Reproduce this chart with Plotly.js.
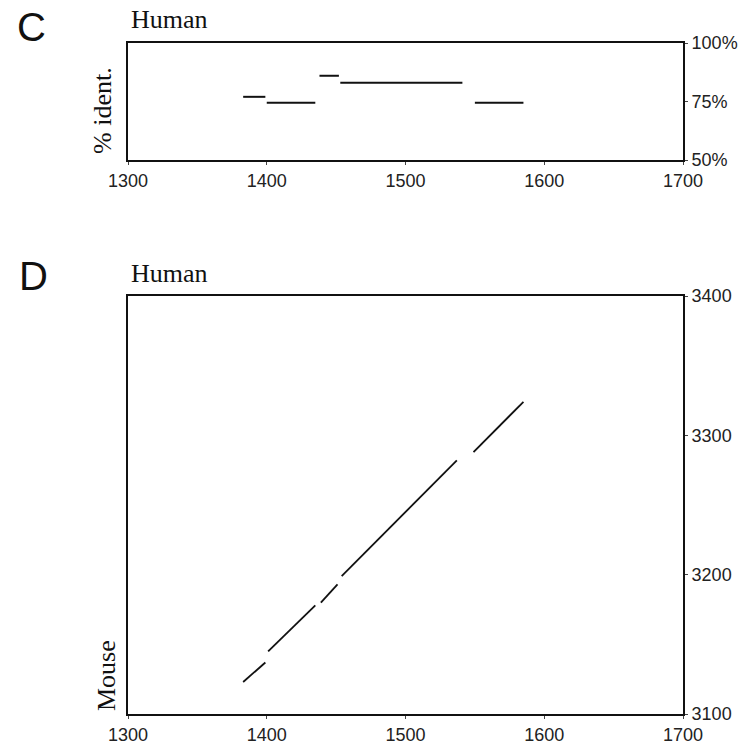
<!DOCTYPE html>
<html>
<head>
<meta charset="utf-8">
<script src="https://cdn.plot.ly/plotly-3.0.1.min.js"></script>
<style>html,body{margin:0;padding:0;background:#fff;}#chart{width:746px;height:748px;}</style>
</head>
<body>
<div id="chart"></div>
<script>
// Panel C: percent identity segments (human position start/end, % identity)
const identStart = [1383, 1400, 1438, 1453, 1550];
const identEnd   = [1399, 1435, 1452, 1541, 1585];
const identPct   = [77, 74.5, 86, 83, 74.5];

// Panel D: dot-plot alignment segments (human vs mouse positions)
const humanStart = [1383, 1401, 1439, 1454, 1549];
const humanEnd   = [1399, 1435, 1451, 1537, 1585];
const mouseStart = [3123, 3145, 3180, 3199, 3288];
const mouseEnd   = [3137, 3178, 3193, 3282, 3324];

const xTicks = [1300, 1400, 1500, 1600, 1700];
const identTicks = [50, 75, 100];
const identTickText = ['50%', '75%', '100%'];
const mouseTicks = [3100, 3200, 3300, 3400];

const cx = [], cy = [];
for (let i = 0; i < identStart.length; i++) {
  cx.push(identStart[i], identEnd[i], null);
  cy.push(identPct[i], identPct[i], null);
}
const dx = [], dy = [];
for (let i = 0; i < humanStart.length; i++) {
  dx.push(humanStart[i], humanEnd[i], null);
  dy.push(mouseStart[i], mouseEnd[i], null);
}

const traces = [
  {x: cx, y: cy, xaxis: 'x', yaxis: 'y', mode: 'lines', line: {color: '#111', width: 2}, connectgaps: false, hoverinfo: 'skip'},
  {x: dx, y: dy, xaxis: 'x2', yaxis: 'y2', mode: 'lines', line: {color: '#111', width: 1.8}, connectgaps: false, hoverinfo: 'skip'}
];

const tickFont = {family: 'Liberation Sans, Arial, sans-serif', size: 18, color: '#222'};
const axisCommon = {
  showline: true, mirror: true, linecolor: '#111', linewidth: 2,
  showgrid: false, zeroline: false, ticks: 'outside', ticklen: 3,
  tickcolor: '#444', tickwidth: 1, tickfont: tickFont, fixedrange: true
};

const serif = 'Liberation Serif, Times New Roman, serif';
const sans = 'Liberation Sans, Arial, sans-serif';
const xd = [128/746, 683/746];
const layout = {
  width: 746, height: 748,
  margin: {l: 0, r: 0, t: 0, b: 0},
  paper_bgcolor: '#fff', plot_bgcolor: '#fff',
  showlegend: false,
  xaxis: Object.assign({}, axisCommon, {domain: xd, range: [1300, 1700], tickvals: xTicks, anchor: 'y'}),
  yaxis: Object.assign({}, axisCommon, {domain: [1-160/748, 1-43/748], range: [50, 100], tickvals: identTicks, ticktext: identTickText, side: 'right', anchor: 'x'}),
  xaxis2: Object.assign({}, axisCommon, {domain: xd, range: [1300, 1700], tickvals: xTicks, anchor: 'y2'}),
  yaxis2: Object.assign({}, axisCommon, {domain: [1-714/748, 1-296/748], range: [3100, 3400], tickvals: mouseTicks, side: 'right', anchor: 'x2'}),
  annotations: [
    {text: 'C', x: 31/746, y: 1-27/748, xref: 'paper', yref: 'paper', showarrow: false, xanchor: 'center', yanchor: 'middle', font: {family: sans, size: 40, color: '#111'}},
    {text: 'D', x: 33/746, y: 1-276/748, xref: 'paper', yref: 'paper', showarrow: false, xanchor: 'center', yanchor: 'middle', font: {family: sans, size: 40, color: '#111'}},
    {text: 'Human', x: 129/746, y: 1-20/748, xref: 'paper', yref: 'paper', showarrow: false, xanchor: 'left', yanchor: 'middle', font: {family: serif, size: 26, color: '#111'}},
    {text: 'Human', x: 129/746, y: 1-273/748, xref: 'paper', yref: 'paper', showarrow: false, xanchor: 'left', yanchor: 'middle', font: {family: serif, size: 26, color: '#111'}},
    {text: '% ident.', x: 102/746, y: 1-111/748, xref: 'paper', yref: 'paper', showarrow: false, textangle: -90, xanchor: 'center', yanchor: 'middle', font: {family: serif, size: 26, color: '#111'}},
    {text: 'Mouse', x: 106/746, y: 1-676/748, xref: 'paper', yref: 'paper', showarrow: false, textangle: -90, xanchor: 'center', yanchor: 'middle', font: {family: serif, size: 26, color: '#111'}}
  ]
};

Plotly.newPlot('chart', traces, layout, {displayModeBar: false, staticPlot: true});
</script>
</body>
</html>
